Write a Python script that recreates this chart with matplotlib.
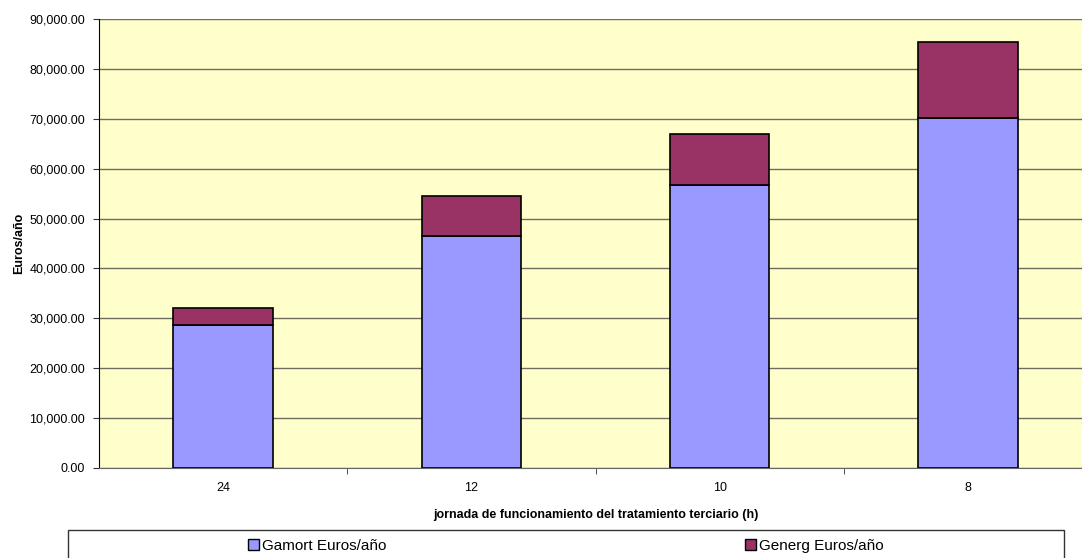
import matplotlib.pyplot as plt
from matplotlib.ticker import FuncFormatter, FixedLocator
from matplotlib.patches import Rectangle, Patch

categories = ["24", "12", "10", "8"]
gamort = [28700, 46500, 56800, 70200]
generg = [3350, 8000, 10200, 15100]

plt.rcParams["font.family"] = ["Liberation Sans", "DejaVu Sans"]

fig = plt.figure(figsize=(10.82, 5.58), dpi=100)
# plot area runs slightly past the right edge of the picture
ax = fig.add_axes([99 / 1082, 90 / 558, (1092 - 99) / 1082, 449 / 558])
ax.set_facecolor("#FFFFCC")

x = range(len(categories))
ax.bar(x, gamort, width=0.4, color="#9999FF", edgecolor="black", linewidth=1.2, zorder=3)
ax.bar(x, generg, width=0.4, bottom=gamort, color="#993366", edgecolor="black", linewidth=1.2, zorder=3)

ax.set_xlim(-0.5, 3.5)
ax.set_ylim(0, 90000)
ax.set_yticks(range(0, 90001, 10000))
ax.yaxis.set_major_formatter(FuncFormatter(lambda v, p: f"{v:,.2f}"))
ax.grid(axis="y", color="#6e6e60", linewidth=1, zorder=1)

ax.set_xticks(list(x))
ax.set_xticklabels(categories)
ax.tick_params(axis="x", length=0, labelsize=9, pad=10)
ax.xaxis.set_minor_locator(FixedLocator([0.5, 1.5, 2.5]))
ax.tick_params(axis="x", which="minor", length=4, color="#333333")
ax.tick_params(axis="y", length=4, labelsize=9, color="#333333", pad=6)

for s in ["top", "right"]:
    ax.spines[s].set_visible(False)
ax.spines["left"].set_color("black")
ax.spines["bottom"].set_color("#666666")

ax.set_xlabel("jornada de funcionamiento del tratamiento terciario (h)", fontsize=9,
              fontweight="bold", labelpad=11)
ax.set_ylabel("Euros/año", fontsize=9, fontweight="bold", labelpad=3)

# legend box at the bottom
fig.patches.append(Rectangle((68 / 1082, -0.05), (1064 - 68) / 1082, (558 - 530) / 558 + 0.05,
                             transform=fig.transFigure, facecolor="white",
                             edgecolor="#333333", linewidth=1))
handles = [Patch(facecolor="#9999FF", edgecolor="black", label="Gamort Euros/año"),
           Patch(facecolor="#993366", edgecolor="black", label="Generg Euros/año")]
fig.legend(handles=handles, ncol=2, loc="center", bbox_to_anchor=(566 / 1082, 12 / 558),
           frameon=False, fontsize=11, handlelength=0.7, handleheight=0.7,
           handletextpad=0.2, columnspacing=23.5)

plt.savefig("out.png", dpi=100)
